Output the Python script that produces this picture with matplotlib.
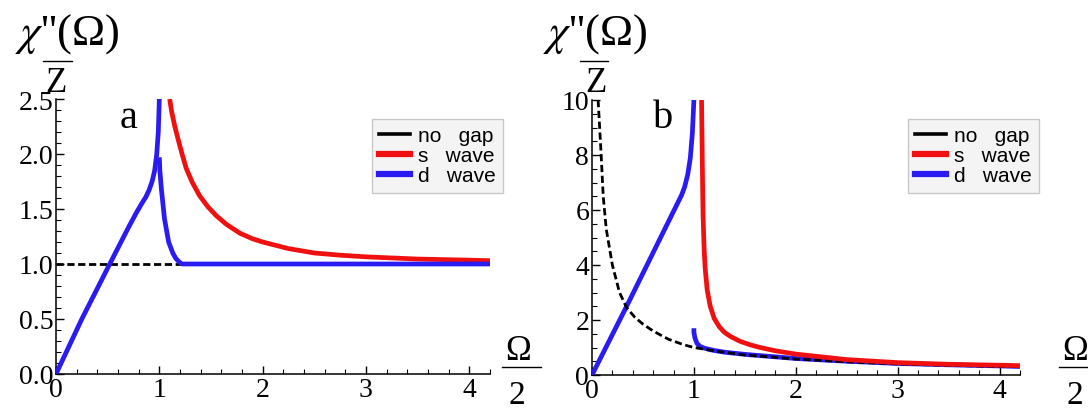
import matplotlib
matplotlib.use('Agg')
import matplotlib.pyplot as plt
from matplotlib.lines import Line2D
from matplotlib.ticker import MultipleLocator, FormatStrFormatter

plt.rcParams['mathtext.fontset'] = 'stix'
SERIF = 'Liberation Serif'
SANS = 'Liberation Sans'

# --- panel a: chi''/Z, normalised ---
nogap_a_x = [0.0, 4.2]
nogap_a_y = [1.0, 1.0]

swave_a_x = [1.1, 1.12, 1.15, 1.18, 1.22, 1.26, 1.32, 1.39, 1.47, 1.55, 1.65, 1.78, 1.9, 2.0,
             2.25, 2.5, 2.75, 3.0, 3.5, 4.0, 4.2]
swave_a_y = [2.5, 2.38, 2.25, 2.14, 2.0, 1.87, 1.74, 1.62, 1.52, 1.44, 1.36, 1.28, 1.23, 1.2,
             1.14, 1.1, 1.08, 1.065, 1.045, 1.035, 1.03]

dwave_a_x1 = [0.0, 0.25, 0.52, 0.7, 0.78, 0.83, 0.87, 0.9, 0.93, 0.955, 0.975, 0.99, 1.0]
dwave_a_y1 = [0.0, 0.5, 1.0, 1.33, 1.47, 1.55, 1.61, 1.67, 1.75, 1.85, 2.0, 2.2, 2.5]
dwave_a_x2 = [1.0, 1.005, 1.02, 1.05, 1.09, 1.13, 1.16, 1.19, 1.22, 4.2]
dwave_a_y2 = [1.97, 1.85, 1.68, 1.41, 1.2, 1.1, 1.05, 1.02, 1.0, 1.0]

# --- panel b ---
nogap_b_x = [0.06, 0.075, 0.09, 0.11, 0.14, 0.2, 0.27, 0.34, 0.42, 0.5, 0.6, 0.75, 0.9, 1.0,
             1.25, 1.5, 2.0, 2.5, 3.0, 3.5, 4.0, 4.2]
nogap_b_y = [10.0, 9.0, 8.0, 6.5, 5.3, 4.0, 3.0, 2.45, 2.1, 1.85, 1.6, 1.3, 1.1, 1.0,
             0.85, 0.73, 0.58, 0.48, 0.4, 0.35, 0.31, 0.3]

swave_b_x = [1.075, 1.08, 1.085, 1.09, 1.1, 1.11, 1.13, 1.16, 1.2, 1.25, 1.3, 1.36, 1.45, 1.55,
             1.65, 1.8, 2.0, 2.5, 3.0, 3.5, 4.0, 4.2]
swave_b_y = [10.0, 8.5, 7.0, 5.8, 4.6, 3.9, 3.1, 2.5, 2.05, 1.75, 1.55, 1.4, 1.23, 1.1,
             1.0, 0.88, 0.76, 0.56, 0.45, 0.39, 0.355, 0.34]

dwave_b_x1 = [0.0, 0.34, 0.6, 0.8, 0.84, 0.88, 0.91, 0.94, 0.965, 0.985, 1.0]
dwave_b_y1 = [0.0, 2.5, 4.45, 5.95, 6.25, 6.55, 6.85, 7.3, 7.9, 8.8, 10.0]
dwave_b_x2 = [1.0, 1.0, 1.01, 1.03, 1.06, 1.1, 1.15, 1.2, 1.3, 1.5, 2.0, 2.5, 3.0, 3.5, 4.0, 4.2]
dwave_b_y2 = [1.7, 1.55, 1.35, 1.15, 1.04, 0.98, 0.93, 0.89, 0.83, 0.75, 0.6, 0.5, 0.42, 0.37,
              0.33, 0.31]

legend_labels = ['no   gap', 's   wave', 'd   wave']

BLUE = '#2a1bf2'
RED = '#f01010'
W, H = 1088, 410


def style_axes(ax, ymax, ymajor, yminor, yfmt):
    for side in ('top', 'right'):
        ax.spines[side].set_visible(False)
    for side in ('left', 'bottom'):
        ax.spines[side].set_linewidth(1.1)
    ax.set_xlim(0, 4.2)
    ax.set_ylim(0, ymax)
    ax.xaxis.set_major_locator(MultipleLocator(1))
    ax.xaxis.set_minor_locator(MultipleLocator(0.2))
    ax.yaxis.set_major_locator(MultipleLocator(ymajor))
    ax.yaxis.set_minor_locator(MultipleLocator(yminor))
    ax.yaxis.set_major_formatter(FormatStrFormatter(yfmt))
    ax.tick_params(which='major', direction='in', length=6, width=1.0,
                   labelsize=20, pad=2)
    ax.tick_params(which='minor', direction='in', length=3.5, width=0.8)
    for lab in ax.get_xticklabels() + ax.get_yticklabels():
        lab.set_fontfamily(SERIF)
    ax.patch.set_alpha(0)


def add_legend(ax, x_px, y_px):
    handles = [Line2D([], [], color='black', lw=2.6),
               Line2D([], [], color=RED, lw=4.5),
               Line2D([], [], color=BLUE, lw=4.5)]
    leg = ax.legend(handles, legend_labels, loc='upper left',
                    bbox_to_anchor=(x_px / W, 1 - y_px / H),
                    bbox_transform=ax.figure.transFigure, borderaxespad=0,
                    prop={'family': SANS, 'size': 15}, handlelength=1.45,
                    handletextpad=0.4, labelspacing=0.05, borderpad=0.35,
                    fancybox=False, framealpha=1, facecolor='#f4f4f4',
                    edgecolor='#c8c8c8')
    leg.get_frame().set_linewidth(1.0)


def add_titles(fig, x_chi, x_bar, x_z, x_omega, x_letter, letter):
    fig.text(x_chi / W, 1 - 45 / H, r"$\chi$''(Ω)", family=SERIF, fontsize=32,
             ha='left', va='baseline')
    fig.add_artist(Line2D([x_bar[0] / W, x_bar[1] / W], [1 - 62 / H, 1 - 62 / H],
                          color='black', lw=1.0))
    fig.text(x_z / W, 1 - 92 / H, 'Z', family=SERIF, fontsize=25,
             ha='left', va='baseline')
    fig.text(x_letter / W, 1 - 128 / H, letter, family=SERIF, fontsize=29,
             ha='left', va='baseline')
    # x-axis label Ω/2 at the end of the axis
    fig.text(x_omega / W, 1 - 360 / H, 'Ω', family=SERIF, fontsize=25,
             ha='left', va='baseline')
    fig.add_artist(Line2D([(x_omega - 3) / W, (x_omega + 36) / W],
                          [1 - 368 / H, 1 - 368 / H], color='black', lw=1.0))
    fig.text((x_omega + 4) / W, 1 - 404 / H, '2', family=SERIF, fontsize=24,
             ha='left', va='baseline')


fig = plt.figure(figsize=(W / 100, H / 100), dpi=100)

ax_a = fig.add_axes([56 / W, 35 / H, 434 / W, 275 / H])
ax_a.plot(nogap_a_x, nogap_a_y, color='black', lw=2.0, ls=(0, (2.6, 1.3)), zorder=2)
ax_a.plot(swave_a_x, swave_a_y, color=RED, lw=3.4, zorder=3, solid_capstyle='butt')
ax_a.plot(dwave_a_x1, dwave_a_y1, color=BLUE, lw=3.4, zorder=4, solid_capstyle='butt')
ax_a.plot(dwave_a_x2, dwave_a_y2, color=BLUE, lw=3.4, zorder=4, solid_capstyle='butt')
style_axes(ax_a, 2.5, 0.5, 0.1, '%.1f')
add_legend(ax_a, 372, 120)

ax_b = fig.add_axes([592 / W, 34 / H, 428 / W, 275 / H])
ax_b.plot(swave_b_x, swave_b_y, color=RED, lw=3.4, zorder=5, solid_capstyle='butt')
ax_b.plot(dwave_b_x1, dwave_b_y1, color=BLUE, lw=3.4, zorder=3, solid_capstyle='butt')
ax_b.plot(dwave_b_x2, dwave_b_y2, color=BLUE, lw=3.4, zorder=3, solid_capstyle='butt')
ax_b.plot(nogap_b_x, nogap_b_y, color='black', lw=2.0, ls=(0, (2.6, 1.3)), zorder=4)
style_axes(ax_b, 10, 2, 0.5, '%d')
add_legend(ax_b, 908, 120)

add_titles(fig, 15, (43, 72), 45, 505, 120, 'a')
add_titles(fig, 543, (580, 608), 585, 1062, 653, 'b')

fig.savefig('out.png', dpi=100)
